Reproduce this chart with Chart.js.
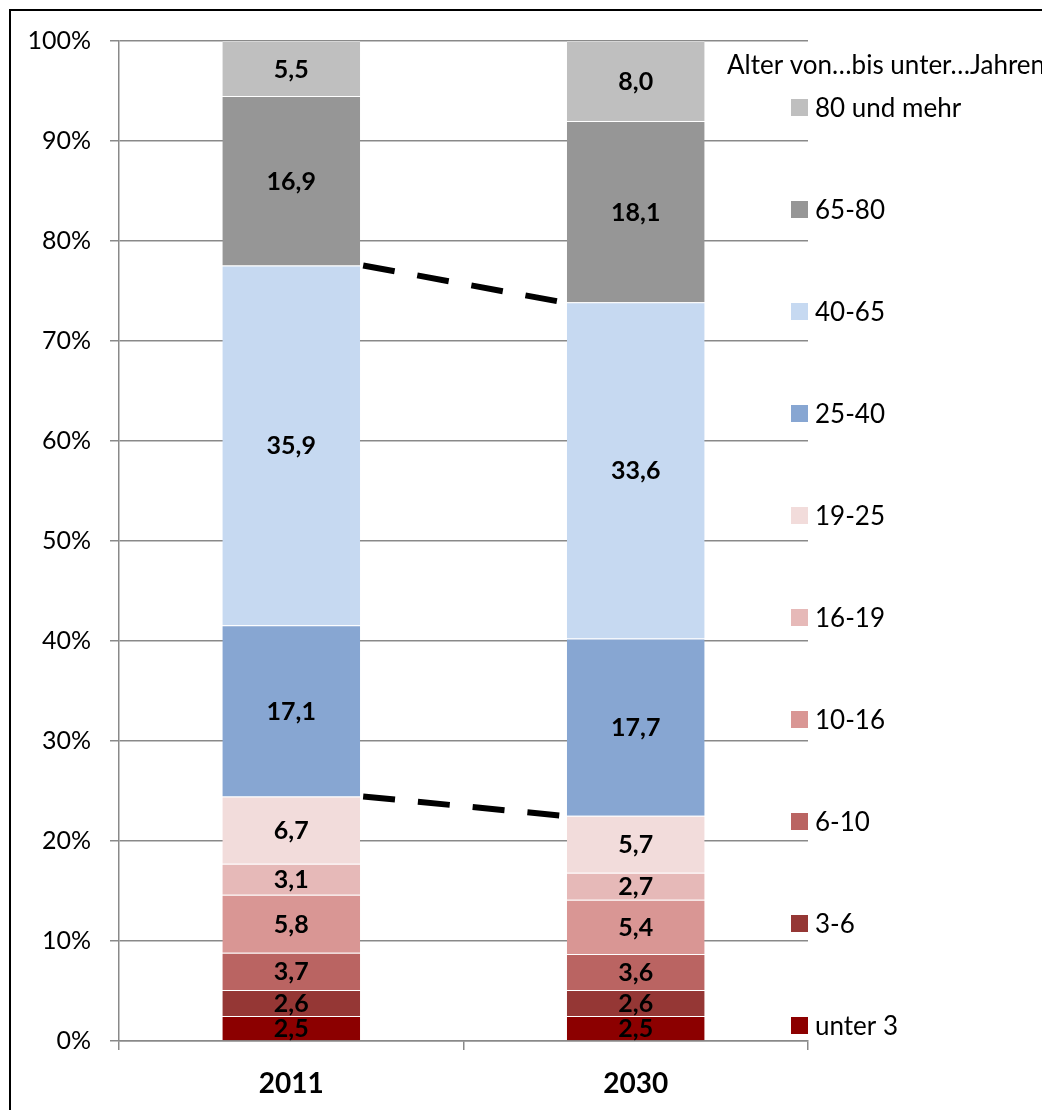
<!DOCTYPE html>
<html>
<head>
<meta charset="utf-8">
<script src="https://cdn.jsdelivr.net/npm/chart.js@4/dist/chart.umd.min.js"></script>
<style>
  html, body { margin: 0; padding: 0; background: #fff; }
  #wrap { width: 1042px; height: 1110px; }
</style>
</head>
<body>
<div id="wrap"><canvas id="chart" width="1042" height="1110"></canvas></div>
<script>
// data (share of population in %)
const categories = ['2011', '2030'];
const ageGroups = ['unter 3', '3-6', '6-10', '10-16', '16-19', '19-25', '25-40', '40-65', '65-80', '80 und mehr'];
const values2011 = [2.5, 2.6, 3.7, 5.8, 3.1, 6.7, 17.1, 35.9, 16.9, 5.5];
const values2030 = [2.5, 2.6, 3.6, 5.4, 2.7, 5.7, 17.7, 33.6, 18.1, 8.0];
const groupColors = ['#8C0000', '#953735', '#BA6462', '#D99694', '#E6B9B8',
                     '#F2DCDB', '#87A6D2', '#C6D9F1', '#969696', '#BFBFBF'];
const legendTitle = 'Alter von\u2026bis unter\u2026Jahren';
// dashed connectors are drawn over the top of these groups
const connectorGroups = ['19-25', '40-65'];

const FONT = 'Lato, "Noto Sans", sans-serif';
const GRID = '#898989';

// 100% stacked like the original: normalise each year to its sum
const sum2011 = values2011.reduce((a, b) => a + b, 0);
const sum2030 = values2030.reduce((a, b) => a + b, 0);

const datasets = ageGroups.map((g, i) => ({
  label: g,
  data: [values2011[i] / sum2011 * 100, values2030[i] / sum2030 * 100],
  raw: [values2011[i], values2030[i]],
  backgroundColor: groupColors[i],
  borderColor: 'rgba(255,255,255,0.3)',
  borderWidth: { top: 1, bottom: 0, left: 0, right: 0 },
  borderSkipped: false,
  barPercentage: 1.0,
  categoryPercentage: 0.4
}));

const framePlugin = {
  id: 'frame',
  beforeDraw(chart) {
    const ctx = chart.ctx;
    ctx.save();
    ctx.fillStyle = '#fff';
    ctx.fillRect(0, 0, chart.width, chart.height);
    ctx.strokeStyle = '#000';
    ctx.lineWidth = 2;
    ctx.strokeRect(10, 10, chart.width + 20, chart.height + 20);
    ctx.restore();
  }
};

const labelPlugin = {
  id: 'segLabels',
  afterDatasetsDraw(chart) {
    const ctx = chart.ctx;
    ctx.save();
    ctx.font = 'bold 25px ' + FONT;
    ctx.fillStyle = '#000';
    ctx.textAlign = 'center';
    ctx.textBaseline = 'middle';
    chart.data.datasets.forEach((ds, di) => {
      chart.getDatasetMeta(di).data.forEach((el, j) => {
        const txt = ds.raw[j].toFixed(1).replace('.', ',');
        ctx.fillText(txt, el.x, (el.y + el.base) / 2 + 1);
      });
    });
    ctx.restore();
  }
};

const connectorPlugin = {
  id: 'connectors',
  afterDatasetsDraw(chart) {
    const ctx = chart.ctx;
    ctx.save();
    ctx.strokeStyle = '#000';
    ctx.lineWidth = 6;
    ctx.setLineDash([32, 23]);
    connectorGroups.forEach(g => {
      const di = ageGroups.indexOf(g);
      const [a, b] = chart.getDatasetMeta(di).data;
      ctx.beginPath();
      ctx.moveTo(a.x + a.width / 2 + 3, a.y);
      ctx.lineTo(b.x - b.width / 2 - 4, b.y);
      ctx.stroke();
    });
    ctx.restore();
  }
};

const legendPlugin = {
  id: 'sideLegend',
  afterDraw(chart) {
    const ctx = chart.ctx;
    ctx.save();
    ctx.fillStyle = '#000';
    ctx.textBaseline = 'middle';
    ctx.textAlign = 'left';
    ctx.font = '26px ' + FONT;
    ctx.fillText(legendTitle, 727, 66);
    const ds = chart.data.datasets.slice().reverse();
    ds.forEach((d, i) => {
      const cy = 107.5 + i * 102;
      ctx.fillStyle = d.backgroundColor;
      ctx.fillRect(791, cy - 8.5, 17, 17);
      ctx.fillStyle = '#000';
      ctx.fillText(d.label, 815, cy + 1);
    });
    ctx.restore();
  }
};

new Chart(document.getElementById('chart'), {
  type: 'bar',
  data: { labels: categories, datasets: datasets },
  options: {
    responsive: false,
    animation: false,
    devicePixelRatio: 1,
    layout: { padding: { top: 41, right: 234, left: 0, bottom: 0 } },
    plugins: {
      legend: { display: false },
      tooltip: { enabled: false }
    },
    scales: {
      x: {
        stacked: true,
        offset: true,
        grid: { display: true, drawOnChartArea: false, color: GRID, lineWidth: 1.5, tickLength: 9 },
        border: { color: GRID, width: 1.5 },
        ticks: { color: '#000', padding: 17, font: { family: FONT, size: 28, weight: 'bold' } },
        afterFit(scale) { scale.height = 69; }
      },
      y: {
        stacked: true,
        min: 0,
        max: 100,
        grid: { color: GRID, lineWidth: 1.5, tickLength: 9 },
        border: { color: GRID, width: 1.5 },
        ticks: {
          stepSize: 10,
          color: '#000',
          padding: 19,
          font: { family: FONT, size: 25 },
          callback: v => v + '%'
        },
        afterFit(scale) { scale.width = 119; }
      }
    }
  },
  plugins: [framePlugin, labelPlugin, connectorPlugin, legendPlugin]
});
</script>
</body>
</html>
